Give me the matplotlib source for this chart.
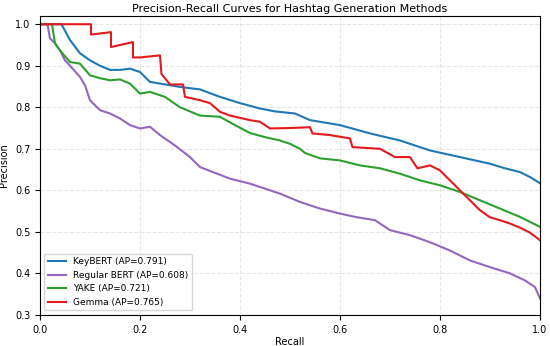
import numpy as np
import matplotlib
matplotlib.use('Agg')
import matplotlib.pyplot as plt

# values (recall, precision)
keybert_recall = [0.0, 0.043, 0.06, 0.08, 0.10, 0.12, 0.14, 0.16, 0.18, 0.20, 0.22, 0.25, 0.28,
                  0.32, 0.36, 0.40, 0.44, 0.47, 0.51, 0.54, 0.60, 0.66, 0.72, 0.78, 0.84,
                  0.90, 0.93, 0.96, 0.98, 1.0]
keybert_prec = [1.0, 1.0, 0.962, 0.93, 0.913, 0.90, 0.89, 0.89, 0.893, 0.885, 0.861, 0.855, 0.849,
                0.843, 0.825, 0.81, 0.797, 0.79, 0.785, 0.769, 0.757, 0.737, 0.72, 0.696, 0.68,
                0.664, 0.653, 0.644, 0.632, 0.617]

bert_recall = [0.0, 0.015, 0.02, 0.03, 0.04, 0.05, 0.06, 0.08, 0.09, 0.10, 0.12, 0.14, 0.16, 0.18,
               0.20, 0.22, 0.24, 0.27, 0.30, 0.32, 0.35, 0.38, 0.42, 0.45, 0.48, 0.52, 0.56,
               0.60, 0.63, 0.67, 0.70, 0.74, 0.78, 0.82, 0.86, 0.90, 0.94, 0.97, 0.99, 1.0]
bert_prec = [1.0, 1.0, 0.966, 0.954, 0.937, 0.913, 0.90, 0.873, 0.853, 0.817, 0.793, 0.785, 0.773, 0.757,
             0.749, 0.753, 0.733, 0.708, 0.68, 0.656, 0.642, 0.628, 0.616, 0.604, 0.592, 0.572, 0.556,
             0.544, 0.536, 0.528, 0.504, 0.492, 0.475, 0.455, 0.431, 0.415, 0.40, 0.383, 0.367, 0.34]

yake_recall = [0.0, 0.024, 0.03, 0.04, 0.06, 0.08, 0.10, 0.12, 0.14, 0.16, 0.18, 0.20, 0.22, 0.25,
               0.28, 0.32, 0.36, 0.39, 0.42, 0.45, 0.48, 0.50, 0.52, 0.53, 0.56, 0.60, 0.64, 0.68,
               0.72, 0.76, 0.80, 0.84, 0.88, 0.92, 0.96, 0.98, 1.0]
yake_prec = [1.0, 1.0, 0.954, 0.937, 0.909, 0.905, 0.877, 0.87, 0.865, 0.867, 0.857, 0.833, 0.837, 0.825,
             0.80, 0.78, 0.777, 0.757, 0.738, 0.728, 0.72, 0.712, 0.70, 0.69, 0.677, 0.672, 0.66, 0.653,
             0.64, 0.624, 0.612, 0.596, 0.576, 0.556, 0.536, 0.524, 0.512]

gemma_recall = [0.0, 0.102, 0.102, 0.142, 0.142, 0.186, 0.186, 0.20, 0.24, 0.243, 0.26, 0.286, 0.29,
                0.32, 0.34, 0.36, 0.38, 0.42, 0.44, 0.46, 0.50, 0.54, 0.545, 0.58, 0.62, 0.625, 0.68,
                0.71, 0.74, 0.755, 0.78, 0.80, 0.82, 0.84, 0.86, 0.88, 0.90, 0.92, 0.94, 0.96, 0.98, 1.0]
gemma_prec = [1.0, 1.0, 0.975, 0.981, 0.945, 0.957, 0.92, 0.92, 0.925, 0.88, 0.855, 0.855, 0.825,
              0.817, 0.81, 0.789, 0.78, 0.769, 0.765, 0.749, 0.75, 0.752, 0.737, 0.733, 0.725, 0.704,
              0.70, 0.68, 0.68, 0.653, 0.66, 0.648, 0.624, 0.60, 0.576, 0.552, 0.535, 0.528, 0.52, 0.51,
              0.498, 0.48]

labels = ['KeyBERT (AP=0.791)', 'Regular BERT (AP=0.608)', 'YAKE (AP=0.721)', 'Gemma (AP=0.765)']
colors = ['#1f77b4', '#9467bd', '#2ca02c', '#e31a1c']


def main():
    fig = plt.figure(figsize=(5.5, 3.46), dpi=100)
    ax = fig.add_axes([0.0727, 0.09, 0.909, 0.864])

    series = [(keybert_recall, keybert_prec), (bert_recall, bert_prec),
              (yake_recall, yake_prec), (gemma_recall, gemma_prec)]
    for (r, p), lab, c in zip(series, labels, colors):
        ax.plot(r, p, color=c, lw=1.5, label=lab)

    ax.set_xlim(0, 1)
    ax.set_ylim(0.3, 1.02)
    ax.set_xticks(np.arange(0, 1.01, 0.2))
    ax.set_yticks(np.arange(0.3, 1.01, 0.1))
    ax.tick_params(labelsize=7)
    ax.set_xlabel('Recall', fontsize=7, labelpad=2)
    ax.set_ylabel('Precision', fontsize=7, labelpad=4)
    ax.set_title('Precision-Recall Curves for Hashtag Generation Methods', fontsize=8, pad=3)
    ax.grid(True, linestyle='--', alpha=0.3)
    ax.legend(loc='lower left', fontsize=6.5)

    fig.savefig('out.png', dpi=100)


if __name__ == '__main__':
    main()
